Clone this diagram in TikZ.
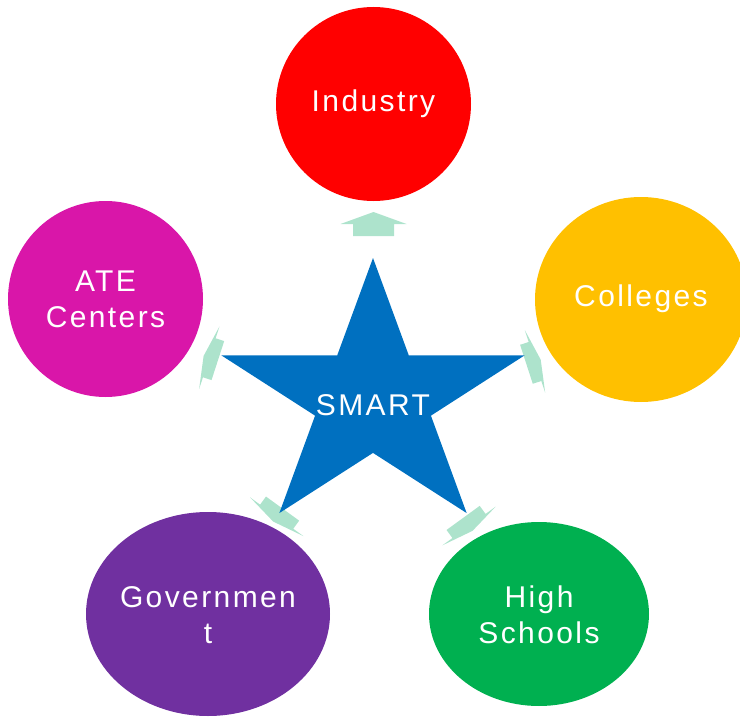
\documentclass[tikz,border=0pt]{standalone}
\usepackage{fontspec}
\newfontfamily\labelfont{Liberation Sans}[LetterSpace=8]
\definecolor{smartblue}{HTML}{0070C0}
\definecolor{spokegreen}{HTML}{ADE3CC}
\definecolor{industryred}{HTML}{FF0000}
\definecolor{collegeorange}{HTML}{FFC000}
\definecolor{schoolgreen}{HTML}{00B050}
\definecolor{govpurple}{HTML}{7030A0}
\definecolor{atemagenta}{HTML}{D916A9}
\tikzset{
  labeltext/.style={text=white, align=center, font=\labelfont\fontsize{30}{36}\selectfont},
  spoke/.style={fill=spokegreen}
}

\begin{document}
\begin{tikzpicture}[x=1pt, y=-1pt]
\useasboundingbox (0,0) rectangle (740,717);
\fill[industryred] (373.5,104) ellipse [x radius=97.5pt, y radius=97pt];
\fill[collegeorange] (641,299.5) ellipse [x radius=106pt, y radius=102.5pt];
\fill[schoolgreen] (539,614) ellipse [x radius=110pt, y radius=92pt];
\fill[govpurple] (208,614) ellipse [x radius=122pt, y radius=102pt];
\fill[atemagenta] (105.5,299) ellipse [x radius=97.5pt, y radius=98pt];
\fill[spoke, shift={(373.5,224)}, rotate=90]
  (-12,-20.5) -- (0,-20.5) -- (0,-33) -- (12,0) -- (0,33) -- (0,20.5) -- (-12,20.5) -- cycle;
\fill[spoke, shift={(535,361.5)}, rotate=18]
  (-9,-20.5) -- (0,-20.5) -- (0,-33) -- (6,0) -- (0,33) -- (0,20.5) -- (-9,20.5) -- cycle;
\fill[spoke, shift={(469,526)}, rotate=-54]
  (-10,-20.5) -- (0,-20.5) -- (0,-33) -- (6,0) -- (0,33) -- (0,20.5) -- (-10,20.5) -- cycle;
\fill[spoke, shift={(276.7,516.7)}, rotate=-126]
  (-10,-20.5) -- (0,-20.5) -- (0,-33) -- (6,0) -- (0,33) -- (0,20.5) -- (-10,20.5) -- cycle;
\fill[spoke, shift={(209.3,357.8)}, rotate=162]
  (-9,-20.5) -- (0,-20.5) -- (0,-33) -- (6,0) -- (0,33) -- (0,20.5) -- (-9,20.5) -- cycle;
\fill[smartblue, shift={(373,399)}, xscale=1.13]
  (-90:141) -- (-54:53.9) -- (-18:141) -- (18:53.9) -- (54:141) -- (90:53.9)
  -- (126:141) -- (162:53.9) -- (198:141) -- (234:53.9) -- cycle;
\node[labeltext] (smart) at (373,405) {SMART};
\node[labeltext] (industry) at (373.5,104) {Industry};
\node[labeltext] (colleges) at (641,299) {Colleges};
\node[labeltext] (schools) at (539,615) {High\\Schools};
\node[labeltext] (government) at (208,615) {Governmen\\t};
\node[labeltext] (ate) at (105.5,299) {ATE\\Centers};
\end{tikzpicture}
\end{document}
